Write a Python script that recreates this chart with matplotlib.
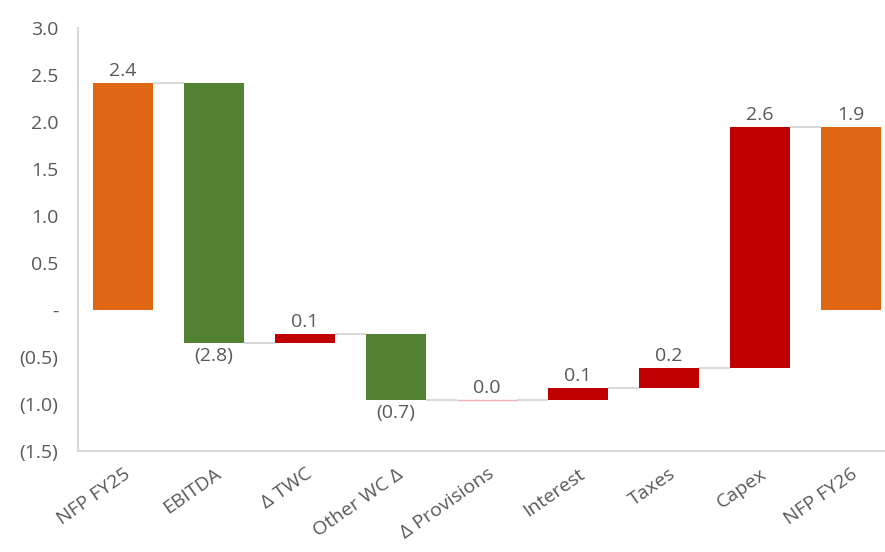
import numpy as np
import matplotlib
matplotlib.use("Agg")
from matplotlib import pyplot as plt
from matplotlib.ticker import FuncFormatter

# waterfall data (EUR bn)
categories = ["NFP FY25", "EBITDA", "\u0394 TWC", "Other WC \u0394", "\u0394 Provisions",
              "Interest", "Taxes", "Capex", "NFP FY26"]
start_value = 2.42
changes = [-2.77, 0.10, -0.71, 0.005, 0.13, 0.21, 2.56]

ORANGE = "#E06614"
GREEN = "#548235"
RED = "#C00000"
TEXT = "#595959"
GRID = "#D9D9D9"


def fmt(v, pos=None):
    if abs(v) < 1e-9:
        return "-"
    if v < 0:
        return "({:.1f})".format(-v)
    return "{:.1f}".format(v)


plt.rcParams["font.family"] = ["Open Sans", "DejaVu Sans"]

# running levels
levels = np.concatenate([[start_value], start_value + np.cumsum(changes)])
end_value = levels[-1]

bottoms, heights, colors, labels = [], [], [], []
bottoms.append(0.0); heights.append(start_value); colors.append(ORANGE); labels.append(start_value)
for i, c in enumerate(changes):
    prev = levels[i]
    bottoms.append(min(prev, prev + c))
    heights.append(abs(c))
    colors.append(RED if c >= 0 else GREEN)
    labels.append(c)
bottoms.append(0.0); heights.append(end_value); colors.append(ORANGE); labels.append(end_value)

fig = plt.figure(figsize=(8.85, 5.52), dpi=100)
ax = fig.add_axes([0.0876, 0.183, 0.925, 0.766])

x = np.arange(len(categories))
w = 0.66
bars = ax.bar(x, heights, bottom=bottoms, width=w, color=colors, edgecolor="none", zorder=3)
# near-zero provisions bar shows as a faint line
bars[4].set_facecolor("#F4B0B0")
bars[4].set_edgecolor("#F4B0B0")
bars[4].set_linewidth(1.0)

# connector lines between bars
for i in range(len(categories) - 1):
    ax.plot([x[i] + w / 2, x[i + 1] - w / 2], [levels[i], levels[i]],
            color=GRID, lw=1.5, zorder=2, solid_capstyle="butt")

# data labels
for i, v in enumerate(labels):
    top = bottoms[i] + heights[i]
    if v < 0:
        ax.text(x[i], bottoms[i] - 0.04, fmt(v), ha="center", va="top", fontsize=14, color=TEXT)
    else:
        ax.text(x[i], top + 0.03, "{:.1f}".format(v), ha="center", va="bottom", fontsize=14, color=TEXT)

ax.set_xlim(-0.5, len(categories) - 0.5)
ax.set_ylim(-1.5, 3.0)
ax.set_yticks(np.arange(-1.5, 3.01, 0.5))
ax.yaxis.set_major_formatter(FuncFormatter(fmt))
ax.set_xticks(x)
ax.set_xticklabels(categories, rotation=35, ha="right", rotation_mode="anchor")

ax.tick_params(axis="both", length=0, colors=TEXT, labelsize=14)
ax.tick_params(axis="y", pad=14)
ax.tick_params(axis="x", pad=10)
for lbl in ax.get_xticklabels():
    lbl.set_x(lbl.get_position()[0])
for s in ["top", "right"]:
    ax.spines[s].set_visible(False)
for s in ["left", "bottom"]:
    ax.spines[s].set_color(GRID)
    ax.spines[s].set_linewidth(1.5)

fig.savefig("out.png", dpi=100)
